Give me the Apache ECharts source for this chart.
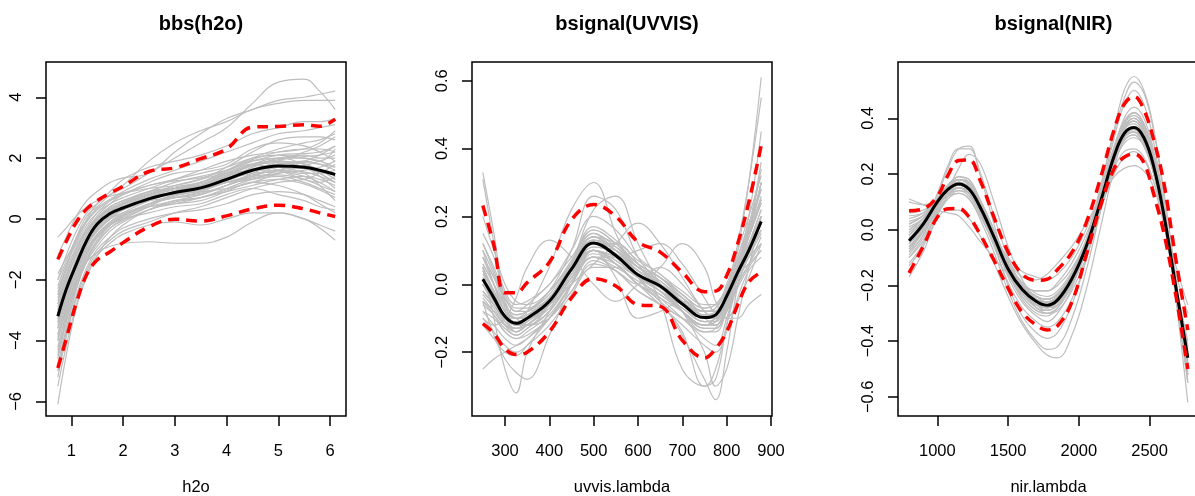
<!DOCTYPE html>
<html><head><meta charset="utf-8">
<script src="https://cdn.jsdelivr.net/npm/echarts@6/dist/echarts.min.js"></script>
<style>html,body{margin:0;padding:0;background:#fff}#c{width:1195px;height:496px}</style>
</head><body><div id="c"></div>
<script>
// ---------- Panel 1: bbs(h2o) ----------
const h2oX = [0.74, 0.9, 1.1, 1.3, 1.5, 1.75, 2.0, 2.5, 3.0, 3.5, 4.0, 4.5, 5.0, 5.5, 5.8, 6.1];
const h2oMean  = [-3.2, -2.33, -1.48, -0.7, -0.17, 0.18, 0.36, 0.66, 0.87, 1.02, 1.3, 1.6, 1.74, 1.7, 1.6, 1.46];
const h2oUpper = [-1.33, -0.75, -0.1, 0.33, 0.6, 0.85, 1.07, 1.56, 1.68, 1.98, 2.3, 3.02, 3.04, 3.1, 3.05, 3.28];
const h2oLower = [-4.9, -3.95, -2.75, -1.82, -1.35, -1.08, -0.78, -0.26, -0.01, -0.07, 0.1, 0.33, 0.45, 0.33, 0.2, 0.08];
const h2oBoot = [
  [-2.0, -1.2, -0.4, 0.2, 0.5, 0.8, 1.0, 1.5, 2.0, 2.5, 3.0, 3.8, 4.5, 4.6, 4.2, 3.6],
  [-1.2, -0.6, 0.1, 0.6, 0.9, 1.2, 1.35, 1.5, 2.2, 2.8, 3.3, 3.6, 3.9, 4.0, 4.1, 4.2],
  [-2.5, -1.6, -0.6, 0.1, 0.4, 0.8, 1.1, 1.9, 2.5, 2.9, 3.2, 3.6, 3.8, 3.9, 3.9, 3.9],
  [-4.0, -3.0, -2.0, -1.4, -1.1, -0.9, -0.8, -0.75, -0.8, -0.8, -0.6, -0.1, 0.2, 0.0, -0.3, -0.7],
  [-5.5, -4.2, -2.8, -1.8, -1.2, -0.8, -0.5, -0.2, -0.1, -0.2, 0.0, 0.2, 0.2, 0.0, -0.2, -0.4],
  [-6.1, -4.5, -2.9, -1.9, -1.2, -0.6, -0.2, 0.3, 0.5, 0.7, 1.0, 1.3, 1.4, 1.2, 1.0, 0.8],
  [-3.0, -2.2, -1.3, -0.6, -0.1, 0.3, 0.5, 0.8, 1.0, 1.2, 1.6, 2.0, 2.3, 2.5, 2.6, 2.8],
  [-3.5, -2.6, -1.6, -0.8, -0.3, 0.1, 0.3, 0.6, 0.7, 0.8, 1.1, 1.5, 1.8, 1.9, 1.8, 1.6],
  [-2.8, -2.0, -1.2, -0.5, 0.0, 0.4, 0.6, 0.9, 1.2, 1.4, 1.6, 1.9, 2.0, 1.8, 1.5, 1.2],
  [-4.2, -3.2, -2.1, -1.3, -0.7, -0.2, 0.1, 0.5, 0.7, 0.9, 1.2, 1.4, 1.5, 1.6, 1.7, 1.9],
  [-3.8, -2.8, -1.7, -0.9, -0.4, 0.0, 0.2, 0.4, 0.5, 0.6, 0.9, 1.2, 1.1, 0.8, 0.5, 0.2],
  [-2.2, -1.5, -0.8, -0.2, 0.2, 0.5, 0.7, 1.0, 1.3, 1.6, 1.9, 2.1, 2.2, 2.3, 2.5, 2.9],
  [-4.8, -3.6, -2.3, -1.4, -0.9, -0.4, -0.1, 0.3, 0.6, 0.7, 0.9, 1.1, 1.3, 1.4, 1.3, 1.1],
  [-3.3, -2.4, -1.4, -0.7, -0.2, 0.2, 0.4, 0.7, 0.9, 1.0, 1.3, 1.7, 2.0, 2.1, 2.0, 2.0],
  [-0.6, -0.3, 0.1, 0.4, 0.6, 0.75, 0.85, 1.0, 1.1, 1.3, 1.7, 2.2, 2.6, 2.7, 2.7, 2.6],
  [-5.0, -3.8, -2.5, -1.6, -1.0, -0.6, -0.3, 0.0, 0.2, 0.3, 0.5, 0.8, 0.9, 0.8, 0.6, 0.4],
  [-2.6, -1.9, -1.0, -0.4, 0.1, 0.5, 0.8, 1.2, 1.5, 1.6, 1.8, 2.3, 2.5, 2.4, 2.2, 1.9],
  [-3.6, -2.7, -1.7, -1.0, -0.5, -0.1, 0.2, 0.6, 0.9, 1.1, 1.2, 1.3, 1.6, 1.9, 2.1, 2.4],
  [-4.5, -3.4, -2.2, -1.4, -0.8, -0.3, 0.0, 0.4, 0.8, 1.0, 1.4, 1.8, 1.9, 1.7, 1.4, 1.0],
  [-2.4, -1.7, -0.9, -0.3, 0.2, 0.6, 0.9, 1.3, 1.6, 1.9, 2.2, 2.5, 2.8, 2.9, 3.0, 3.1],
  [-3.1, -2.3, -1.4, -0.8, -0.4, 0.0, 0.3, 0.7, 1.0, 1.1, 1.2, 1.4, 1.7, 1.5, 1.1, 0.6],
  [-5.2, -3.9, -2.6, -1.7, -1.1, -0.7, -0.4, -0.1, 0.2, 0.4, 0.7, 1.0, 1.2, 1.3, 1.5, 1.8],
  [-1.8, -1.3, -0.7, -0.1, 0.3, 0.6, 0.8, 1.1, 1.3, 1.5, 1.7, 2.0, 2.1, 2.0, 1.9, 2.3],
  [-3.9, -3.0, -1.9, -1.1, -0.6, -0.2, 0.1, 0.5, 0.8, 0.9, 1.0, 1.2, 1.5, 1.7, 1.6, 1.3],
  [-2.9, -2.1, -1.1, -0.5, 0.0, 0.3, 0.5, 0.9, 1.0, 1.1, 1.5, 1.8, 1.6, 1.3, 1.2, 1.4],
  [-4.4, -3.3, -2.0, -1.2, -0.6, -0.2, 0.0, 0.2, 0.4, 0.5, 0.8, 1.0, 0.8, 0.6, 0.4, 0.3],
  [-2.3, -1.6, -0.7, 0.0, 0.5, 0.9, 1.3, 1.7, 1.9, 2.1, 2.4, 2.8, 3.0, 3.2, 3.2, 3.3],
  [-3.4, -2.5, -1.5, -0.8, -0.3, 0.2, 0.5, 0.8, 1.1, 1.3, 1.5, 1.6, 1.9, 2.2, 2.4, 2.7],
  [-3.0, -2.2, -1.4, -0.7, -0.2, 0.2, 0.4, 0.7, 0.8, 0.95, 1.25, 1.7, 1.9, 1.8, 1.6, 1.3],
  [-3.6, -2.6, -1.6, -0.8, -0.3, 0.1, 0.3, 0.6, 0.9, 1.1, 1.4, 1.6, 1.6, 1.5, 1.5, 1.6],
  [-2.7, -1.9, -1.0, -0.4, 0.0, 0.35, 0.55, 0.85, 1.05, 1.2, 1.5, 1.8, 2.0, 2.0, 1.9, 1.7],
  [-4.0, -2.9, -1.8, -1.0, -0.5, -0.1, 0.15, 0.5, 0.7, 0.85, 1.1, 1.4, 1.6, 1.55, 1.4, 1.2],
  [-3.3, -2.4, -1.5, -0.75, -0.2, 0.2, 0.45, 0.75, 0.95, 1.1, 1.4, 1.75, 1.95, 2.05, 2.1, 2.2],
  [-2.5, -1.8, -1.0, -0.35, 0.05, 0.4, 0.6, 0.9, 1.0, 1.05, 1.3, 1.5, 1.55, 1.4, 1.2, 0.9],
  [-4.6, -3.4, -2.1, -1.2, -0.6, -0.2, 0.05, 0.4, 0.6, 0.8, 1.1, 1.35, 1.45, 1.3, 1.1, 0.9],
  [-3.8, -2.8, -1.7, -0.9, -0.35, 0.05, 0.3, 0.65, 0.9, 1.05, 1.35, 1.65, 1.8, 1.85, 1.8, 1.7],
  [-2.0, -1.4, -0.6, -0.05, 0.35, 0.65, 0.85, 1.1, 1.25, 1.35, 1.6, 1.9, 2.1, 2.15, 2.2, 2.4],
  [-5.0, -3.7, -2.3, -1.35, -0.75, -0.3, -0.05, 0.3, 0.55, 0.7, 0.95, 1.2, 1.3, 1.15, 0.95, 0.7],
  [-3.4, -2.5, -1.5, -0.8, -0.25, 0.15, 0.4, 0.7, 0.85, 0.95, 1.2, 1.45, 1.6, 1.75, 1.9, 2.1],
  [-2.8, -2.0, -1.15, -0.5, -0.05, 0.3, 0.5, 0.8, 1.0, 1.15, 1.45, 1.75, 1.85, 1.7, 1.5, 1.2],
  [-4.3, -3.1, -1.9, -1.1, -0.55, -0.15, 0.1, 0.45, 0.75, 0.95, 1.25, 1.55, 1.7, 1.65, 1.55, 1.45],
  [-3.1, -2.3, -1.35, -0.65, -0.15, 0.25, 0.5, 0.8, 1.0, 1.2, 1.55, 1.95, 2.2, 2.3, 2.3, 2.2]
];
const h2oXTicks = [1, 2, 3, 4, 5, 6];
const h2oYTicks = [-6, -4, -2, 0, 2, 4];

// ---------- Panel 2: bsignal(UVVIS) ----------
const uvvisX = [250, 275, 300, 325, 350, 400, 450, 500, 550, 600, 650, 700, 750, 775, 800, 825, 850, 878];
const uvvisMean  = [0.015, -0.04, -0.095, -0.115, -0.1, -0.05, 0.045, 0.122, 0.085, 0.028, -0.005, -0.058, -0.098, -0.09, -0.035, 0.035, 0.1, 0.185];
const uvvisUpper = [0.232, 0.115, -0.025, -0.025, 0.005, 0.065, 0.19, 0.235, 0.2, 0.125, 0.095, 0.035, -0.022, -0.02, 0.025, 0.12, 0.242, 0.41];
const uvvisLower = [-0.116, -0.145, -0.19, -0.207, -0.2, -0.14, -0.04, 0.017, -0.005, -0.06, -0.065, -0.165, -0.217, -0.19, -0.14, -0.06, 0.007, 0.036];
const uvvisBoot = [
  [0.33, 0.15, -0.05, -0.12, -0.1, -0.05, 0.05, 0.14, 0.1, 0.04, 0.0, -0.06, -0.1, -0.09, -0.04, 0.05, 0.14, 0.3],
  [0.31, 0.12, -0.07, -0.14, -0.12, -0.06, 0.04, 0.12, 0.08, 0.03, -0.02, -0.08, -0.12, -0.11, -0.05, 0.06, 0.17, 0.36],
  [-0.25, -0.22, -0.2, -0.18, -0.16, -0.1, 0.0, 0.08, 0.06, 0.02, -0.02, -0.06, -0.08, -0.07, -0.02, 0.03, 0.06, 0.1],
  [0.05, -0.1, -0.25, -0.32, -0.2, -0.08, 0.05, 0.15, 0.1, 0.05, 0.0, -0.05, -0.1, -0.1, -0.05, 0.05, 0.15, 0.25],
  [0.0, -0.05, -0.1, -0.12, -0.08, 0.05, 0.22, 0.3, 0.15, 0.02, -0.05, -0.1, -0.12, -0.1, -0.05, 0.05, 0.15, 0.3],
  [0.1, 0.0, -0.08, -0.1, -0.08, -0.02, 0.1, 0.26, 0.22, 0.08, 0.0, -0.08, -0.14, -0.13, -0.06, 0.05, 0.2, 0.45],
  [0.05, -0.02, -0.1, -0.13, -0.12, -0.06, 0.04, 0.12, 0.09, 0.03, -0.01, -0.06, -0.1, -0.1, -0.03, 0.1, 0.3, 0.61],
  [0.0, -0.05, -0.1, -0.12, -0.1, -0.05, 0.06, 0.13, 0.08, 0.02, -0.02, -0.07, -0.11, -0.1, -0.02, 0.12, 0.3, 0.55],
  [-0.05, -0.08, -0.12, -0.13, -0.12, -0.06, 0.05, 0.1, 0.06, 0.0, -0.05, -0.15, -0.28, -0.34, -0.2, 0.0, 0.15, 0.3],
  [-0.02, -0.06, -0.1, -0.12, -0.1, -0.04, 0.04, 0.12, 0.12, 0.06, -0.05, -0.25, -0.3, -0.25, -0.12, 0.0, 0.08, 0.15],
  [0.08, 0.0, -0.08, -0.1, -0.12, -0.1, -0.02, 0.06, 0.04, 0.0, 0.05, 0.12, 0.05, -0.05, -0.1, -0.05, 0.02, 0.12],
  [0.02, -0.04, -0.12, -0.15, -0.13, -0.08, 0.02, 0.1, 0.08, 0.04, 0.0, -0.04, -0.08, -0.08, -0.1, -0.1, -0.06, -0.03],
  [-0.05, -0.09, -0.14, -0.16, -0.15, -0.1, 0.0, 0.1, 0.02, -0.1, -0.08, -0.05, -0.1, -0.12, -0.08, 0.0, 0.1, 0.2],
  [0.04, -0.03, -0.1, -0.12, -0.1, -0.06, 0.0, 0.06, 0.12, 0.18, 0.12, 0.02, -0.08, -0.1, -0.06, 0.04, 0.14, 0.25],
  [0.12, 0.04, -0.04, -0.08, -0.06, 0.0, 0.08, 0.16, 0.12, 0.06, 0.02, -0.04, -0.08, -0.07, -0.02, 0.06, 0.14, 0.24],
  [-0.08, -0.12, -0.16, -0.18, -0.16, -0.1, -0.02, 0.07, 0.04, -0.02, -0.06, -0.1, -0.14, -0.14, -0.08, 0.0, 0.06, 0.14],
  [0.06, 0.0, -0.06, -0.09, -0.08, -0.04, 0.06, 0.14, 0.1, 0.05, 0.02, -0.03, -0.08, -0.08, -0.04, 0.04, 0.12, 0.22],
  [-0.1, -0.14, -0.18, -0.2, -0.18, -0.12, -0.03, 0.05, 0.05, 0.0, -0.04, -0.08, -0.12, -0.12, -0.07, 0.02, 0.1, 0.18],
  [0.15, 0.08, -0.02, -0.06, -0.05, 0.0, 0.1, 0.2, 0.16, 0.08, 0.03, -0.02, -0.06, -0.06, 0.0, 0.1, 0.2, 0.32],
  [-0.05, -0.15, -0.22, -0.26, -0.28, -0.15, 0.0, 0.12, 0.1, 0.02, -0.04, -0.1, -0.16, -0.18, -0.1, 0.02, 0.1, 0.18],
  [-0.1, -0.12, -0.1, -0.04, 0.05, 0.13, 0.08, 0.0, -0.05, 0.0, 0.05, 0.0, -0.08, -0.1, -0.05, 0.03, 0.08, 0.12],
  [0.08, 0.02, -0.04, -0.08, -0.08, -0.04, 0.04, 0.1, 0.08, 0.04, 0.0, -0.08, -0.2, -0.3, -0.25, -0.1, 0.05, 0.2],
  [0.0, -0.06, -0.11, -0.14, -0.12, -0.06, 0.03, 0.11, 0.1, 0.05, 0.0, -0.06, -0.1, -0.1, -0.05, 0.05, 0.12, 0.2],
  [0.2, 0.1, 0.0, -0.05, -0.06, -0.02, 0.06, 0.14, 0.12, 0.06, 0.02, -0.04, -0.09, -0.09, -0.03, 0.08, 0.18, 0.28],
  [-0.02, -0.06, -0.1, -0.1, -0.1, -0.06, 0.02, 0.08, 0.08, 0.1, 0.12, 0.06, -0.04, -0.08, -0.06, 0.02, 0.1, 0.16],
  [-0.12, -0.16, -0.2, -0.21, -0.18, -0.1, 0.0, 0.1, 0.06, 0.0, -0.06, -0.12, -0.18, -0.2, -0.14, -0.04, 0.04, 0.08],
  [0.03, -0.02, -0.08, -0.12, -0.12, -0.08, 0.02, 0.08, 0.04, -0.02, -0.06, -0.14, -0.3, -0.28, -0.12, 0.02, 0.1, 0.16],
  [0.05, -0.02, -0.08, -0.12, -0.12, -0.06, 0.06, 0.22, 0.26, 0.12, 0.0, -0.08, -0.12, -0.11, -0.05, 0.06, 0.16, 0.28],
  [0.02, -0.03, -0.09, -0.11, -0.1, -0.05, 0.05, 0.13, 0.1, 0.04, 0.0, -0.05, -0.09, -0.08, -0.03, 0.04, 0.11, 0.2],
  [-0.03, -0.07, -0.12, -0.14, -0.12, -0.07, 0.02, 0.1, 0.07, 0.02, -0.02, -0.07, -0.11, -0.11, -0.05, 0.03, 0.09, 0.16],
  [0.08, 0.02, -0.06, -0.09, -0.08, -0.03, 0.07, 0.15, 0.11, 0.05, 0.01, -0.04, -0.08, -0.07, -0.01, 0.07, 0.15, 0.26],
  [-0.06, -0.09, -0.13, -0.15, -0.13, -0.08, 0.01, 0.09, 0.06, 0.0, -0.03, -0.08, -0.12, -0.12, -0.07, 0.0, 0.06, 0.12],
  [0.04, -0.02, -0.08, -0.1, -0.09, -0.04, 0.06, 0.16, 0.12, 0.05, 0.01, -0.05, -0.1, -0.09, -0.03, 0.06, 0.14, 0.24],
  [0.0, -0.05, -0.1, -0.12, -0.11, -0.06, 0.03, 0.11, 0.09, 0.04, 0.0, -0.05, -0.09, -0.09, -0.04, 0.03, 0.1, 0.18],
  [0.1, 0.03, -0.05, -0.1, -0.1, -0.04, 0.06, 0.14, 0.08, 0.02, -0.02, -0.06, -0.1, -0.1, -0.05, 0.05, 0.16, 0.34],
  [-0.04, -0.08, -0.12, -0.13, -0.11, -0.05, 0.04, 0.12, 0.09, 0.03, -0.02, -0.08, -0.13, -0.13, -0.07, 0.02, 0.1, 0.2],
  [0.06, 0.0, -0.07, -0.1, -0.09, -0.05, 0.04, 0.13, 0.11, 0.06, 0.02, -0.03, -0.07, -0.06, -0.01, 0.05, 0.12, 0.19],
  [-0.02, -0.06, -0.11, -0.13, -0.11, -0.06, 0.03, 0.1, 0.07, 0.02, -0.01, -0.06, -0.11, -0.1, -0.04, 0.04, 0.12, 0.22],
  [0.12, 0.05, -0.03, -0.07, -0.07, -0.02, 0.07, 0.17, 0.13, 0.07, 0.03, -0.03, -0.07, -0.06, -0.01, 0.08, 0.17, 0.28],
  [-0.08, -0.1, -0.14, -0.16, -0.14, -0.09, 0.0, 0.08, 0.05, 0.01, -0.03, -0.08, -0.13, -0.13, -0.08, -0.01, 0.05, 0.1]
];
const uvvisXTicks = [300, 400, 500, 600, 700, 800, 900];
const uvvisYTicks = [-0.2, 0.0, 0.2, 0.4, 0.6];

// ---------- Panel 3: bsignal(NIR) ----------
const nirX = [800, 900, 1000, 1075, 1150, 1225, 1300, 1400, 1500, 1600, 1700, 1775, 1850, 1950, 2050, 2150, 2250, 2320, 2390, 2460, 2530, 2600, 2680, 2770];
const nirMean  = [-0.04, 0.02, 0.1, 0.145, 0.164, 0.145, 0.083, -0.026, -0.141, -0.215, -0.258, -0.271, -0.252, -0.177, -0.063, 0.095, 0.265, 0.345, 0.367, 0.33, 0.225, 0.055, -0.19, -0.46];
const nirUpper = [0.068, 0.075, 0.12, 0.195, 0.248, 0.25, 0.18, 0.045, -0.08, -0.16, -0.182, -0.178, -0.143, -0.082, 0.022, 0.18, 0.36, 0.45, 0.478, 0.43, 0.32, 0.17, -0.09, -0.36];
const nirLower = [-0.155, -0.06, 0.045, 0.075, 0.076, 0.045, -0.015, -0.11, -0.21, -0.297, -0.343, -0.36, -0.345, -0.261, -0.095, 0.08, 0.22, 0.26, 0.272, 0.24, 0.125, -0.01, -0.22, -0.5];
const nirBoot = [
  [-0.08, 0.0, 0.12, 0.22, 0.29, 0.3, 0.2, 0.02, -0.15, -0.25, -0.3, -0.31, -0.28, -0.18, -0.04, 0.15, 0.36, 0.5, 0.55, 0.5, 0.36, 0.14, -0.15, -0.5],
  [0.1, 0.09, 0.1, 0.12, 0.14, 0.13, 0.08, -0.02, -0.12, -0.19, -0.22, -0.22, -0.2, -0.14, -0.04, 0.1, 0.25, 0.32, 0.34, 0.3, 0.2, 0.04, -0.2, -0.48],
  [-0.17, -0.08, 0.04, 0.07, 0.07, 0.04, -0.02, -0.12, -0.24, -0.34, -0.41, -0.45, -0.46, -0.38, -0.22, 0.0, 0.22, 0.33, 0.37, 0.34, 0.23, 0.05, -0.22, -0.55],
  [0.11, 0.09, 0.07, 0.06, 0.05, 0.01, -0.04, -0.1, -0.16, -0.2, -0.22, -0.22, -0.19, -0.12, -0.02, 0.12, 0.26, 0.33, 0.35, 0.32, 0.22, 0.06, -0.18, -0.45],
  [-0.1, -0.03, 0.06, 0.12, 0.15, 0.14, 0.09, -0.01, -0.11, -0.17, -0.18, -0.16, -0.12, -0.06, 0.02, 0.11, 0.19, 0.22, 0.23, 0.21, 0.15, 0.02, -0.15, -0.3],
  [-0.02, 0.03, 0.1, 0.14, 0.16, 0.14, 0.08, -0.02, -0.13, -0.2, -0.24, -0.25, -0.23, -0.16, -0.06, 0.08, 0.22, 0.28, 0.29, 0.26, 0.17, 0.04, -0.12, -0.27],
  [-0.06, 0.0, 0.09, 0.15, 0.19, 0.18, 0.1, -0.03, -0.17, -0.26, -0.31, -0.33, -0.3, -0.21, -0.06, 0.14, 0.35, 0.47, 0.53, 0.49, 0.35, 0.12, -0.22, -0.62],
  [-0.05, 0.01, 0.1, 0.16, 0.19, 0.17, 0.1, -0.01, -0.13, -0.21, -0.26, -0.28, -0.27, -0.2, -0.08, 0.08, 0.26, 0.36, 0.39, 0.35, 0.24, 0.07, -0.19, -0.5],
  [0.03, 0.05, 0.1, 0.13, 0.14, 0.12, 0.06, -0.04, -0.15, -0.23, -0.28, -0.3, -0.29, -0.22, -0.1, 0.06, 0.24, 0.33, 0.36, 0.32, 0.21, 0.05, -0.2, -0.44],
  [-0.12, -0.05, 0.07, 0.14, 0.18, 0.17, 0.11, 0.0, -0.12, -0.2, -0.25, -0.26, -0.24, -0.16, -0.04, 0.12, 0.29, 0.38, 0.41, 0.37, 0.25, 0.07, -0.2, -0.52],
  [0.06, 0.07, 0.1, 0.12, 0.13, 0.11, 0.05, -0.05, -0.16, -0.23, -0.27, -0.28, -0.26, -0.19, -0.07, 0.08, 0.25, 0.34, 0.37, 0.33, 0.22, 0.05, -0.18, -0.4],
  [-0.08, -0.02, 0.08, 0.14, 0.17, 0.15, 0.08, -0.05, -0.2, -0.31, -0.37, -0.39, -0.37, -0.27, -0.11, 0.08, 0.27, 0.37, 0.4, 0.36, 0.24, 0.05, -0.22, -0.52],
  [0.0, 0.04, 0.1, 0.14, 0.15, 0.13, 0.07, -0.02, -0.1, -0.15, -0.17, -0.18, -0.16, -0.1, 0.0, 0.13, 0.27, 0.34, 0.35, 0.31, 0.2, 0.03, -0.21, -0.47],
  [-0.06, -0.01, 0.07, 0.14, 0.22, 0.27, 0.24, 0.1, -0.06, -0.18, -0.25, -0.27, -0.25, -0.18, -0.06, 0.1, 0.28, 0.38, 0.42, 0.38, 0.27, 0.08, -0.18, -0.48],
  [-0.03, 0.02, 0.1, 0.15, 0.17, 0.15, 0.09, -0.03, -0.15, -0.23, -0.27, -0.28, -0.27, -0.19, -0.07, 0.09, 0.26, 0.35, 0.37, 0.33, 0.22, 0.06, -0.2, -0.46],
  [0.02, 0.05, 0.1, 0.14, 0.16, 0.14, 0.08, -0.03, -0.14, -0.21, -0.25, -0.26, -0.24, -0.17, -0.07, 0.07, 0.2, 0.26, 0.28, 0.25, 0.17, 0.03, -0.18, -0.42],
  [-0.1, -0.04, 0.06, 0.12, 0.15, 0.13, 0.06, -0.06, -0.19, -0.28, -0.33, -0.35, -0.33, -0.25, -0.11, 0.07, 0.27, 0.37, 0.4, 0.36, 0.25, 0.06, -0.2, -0.5],
  [-0.01, 0.04, 0.11, 0.16, 0.18, 0.16, 0.1, -0.01, -0.12, -0.19, -0.23, -0.24, -0.22, -0.15, -0.04, 0.11, 0.28, 0.37, 0.4, 0.36, 0.25, 0.07, -0.2, -0.49],
  [-0.04, 0.02, 0.13, 0.23, 0.29, 0.29, 0.21, 0.05, -0.1, -0.2, -0.25, -0.26, -0.24, -0.17, -0.05, 0.11, 0.29, 0.4, 0.44, 0.4, 0.28, 0.08, -0.2, -0.52],
  [0.05, 0.06, 0.1, 0.13, 0.15, 0.13, 0.07, -0.04, -0.16, -0.24, -0.29, -0.3, -0.28, -0.2, -0.08, 0.08, 0.25, 0.33, 0.35, 0.31, 0.2, 0.03, -0.22, -0.5],
  [-0.13, -0.06, 0.05, 0.11, 0.13, 0.11, 0.04, -0.08, -0.22, -0.33, -0.4, -0.43, -0.42, -0.32, -0.15, 0.06, 0.27, 0.38, 0.42, 0.38, 0.26, 0.06, -0.22, -0.54],
  [-0.07, 0.0, 0.09, 0.15, 0.18, 0.17, 0.1, -0.02, -0.14, -0.22, -0.27, -0.29, -0.27, -0.2, -0.08, 0.08, 0.27, 0.37, 0.4, 0.36, 0.25, 0.07, -0.19, -0.48],
  [0.0, 0.04, 0.1, 0.14, 0.16, 0.14, 0.07, -0.04, -0.15, -0.22, -0.26, -0.27, -0.25, -0.18, -0.06, 0.1, 0.26, 0.34, 0.36, 0.32, 0.21, 0.05, -0.2, -0.44],
  [-0.05, 0.01, 0.09, 0.15, 0.18, 0.16, 0.09, -0.03, -0.15, -0.23, -0.27, -0.28, -0.26, -0.18, -0.05, 0.13, 0.33, 0.45, 0.5, 0.45, 0.31, 0.09, -0.2, -0.55],
  [-0.02, 0.03, 0.11, 0.16, 0.18, 0.16, 0.09, -0.02, -0.13, -0.2, -0.24, -0.25, -0.23, -0.16, -0.05, 0.1, 0.27, 0.35, 0.37, 0.33, 0.22, 0.05, -0.2, -0.47],
  [-0.06, 0.0, 0.09, 0.13, 0.15, 0.13, 0.07, -0.04, -0.16, -0.23, -0.28, -0.29, -0.27, -0.19, -0.08, 0.08, 0.25, 0.33, 0.35, 0.31, 0.21, 0.04, -0.2, -0.46],
  [0.02, 0.05, 0.11, 0.15, 0.17, 0.15, 0.09, -0.02, -0.13, -0.2, -0.24, -0.26, -0.24, -0.17, -0.05, 0.11, 0.28, 0.36, 0.38, 0.34, 0.23, 0.06, -0.18, -0.43],
  [-0.09, -0.02, 0.08, 0.14, 0.16, 0.14, 0.07, -0.04, -0.16, -0.24, -0.29, -0.3, -0.28, -0.2, -0.07, 0.09, 0.27, 0.36, 0.39, 0.35, 0.24, 0.06, -0.19, -0.48],
  [0.04, 0.06, 0.11, 0.14, 0.15, 0.13, 0.08, -0.02, -0.13, -0.2, -0.24, -0.25, -0.23, -0.16, -0.05, 0.09, 0.24, 0.31, 0.33, 0.3, 0.2, 0.04, -0.19, -0.44],
  [-0.04, 0.02, 0.1, 0.15, 0.17, 0.15, 0.08, -0.03, -0.15, -0.22, -0.27, -0.28, -0.26, -0.18, -0.06, 0.1, 0.28, 0.37, 0.39, 0.35, 0.24, 0.06, -0.2, -0.49],
  [-0.01, 0.03, 0.09, 0.13, 0.15, 0.13, 0.07, -0.03, -0.14, -0.21, -0.25, -0.26, -0.24, -0.17, -0.06, 0.09, 0.26, 0.34, 0.36, 0.32, 0.22, 0.05, -0.19, -0.45],
  [-0.07, -0.01, 0.09, 0.15, 0.18, 0.16, 0.09, -0.03, -0.15, -0.23, -0.27, -0.28, -0.26, -0.18, -0.05, 0.12, 0.3, 0.39, 0.42, 0.38, 0.26, 0.07, -0.19, -0.5],
  [0.01, 0.04, 0.1, 0.14, 0.16, 0.14, 0.08, -0.03, -0.14, -0.22, -0.26, -0.27, -0.25, -0.18, -0.07, 0.08, 0.24, 0.32, 0.34, 0.3, 0.2, 0.04, -0.19, -0.42],
  [-0.05, 0.01, 0.1, 0.15, 0.17, 0.15, 0.08, -0.03, -0.14, -0.22, -0.26, -0.27, -0.25, -0.17, -0.05, 0.11, 0.28, 0.37, 0.4, 0.36, 0.25, 0.07, -0.2, -0.5],
  [-0.02, 0.03, 0.1, 0.14, 0.16, 0.14, 0.08, -0.03, -0.15, -0.23, -0.28, -0.29, -0.27, -0.19, -0.07, 0.09, 0.26, 0.35, 0.37, 0.33, 0.22, 0.05, -0.19, -0.45],
  [-0.03, 0.02, 0.1, 0.16, 0.19, 0.18, 0.11, 0.0, -0.12, -0.2, -0.24, -0.25, -0.23, -0.16, -0.04, 0.12, 0.3, 0.38, 0.41, 0.37, 0.26, 0.07, -0.2, -0.51]
];
const nirXTicks = [1000, 1500, 2000, 2500];
const nirYTicks = [-0.6, -0.4, -0.2, 0.0, 0.2, 0.4];

const titles = ['bbs(h2o)', 'bsignal(UVVIS)', 'bsignal(NIR)'];
const xNames = ['h2o', 'uvvis.lambda', 'nir.lambda'];

// ---------- layout / style ----------
const FONT = '"Liberation Sans", Arial, Helvetica, sans-serif';
const panels = [
  {left: 46, width: 300, xMin: 0.511, xMax: 6.309, yMin: -6.48, yMax: 5.16, dec: 0,
   x: h2oX, mean: h2oMean, upper: h2oUpper, lower: h2oLower, boot: h2oBoot, xt: h2oXTicks, yt: h2oYTicks},
  {left: 472, width: 300, xMin: 225.6, xMax: 902.3, yMin: -0.388, yMax: 0.655, dec: 1,
   x: uvvisX, mean: uvvisMean, upper: uvvisUpper, lower: uvvisLower, boot: uvvisBoot, xt: uvvisXTicks, yt: uvvisYTicks},
  {left: 898, width: 301, xMin: 722, xMax: 2849, yMin: -0.669, yMax: 0.602, dec: 1,
   x: nirX, mean: nirMean, upper: nirUpper, lower: nirLower, boot: nirBoot, xt: nirXTicks, yt: nirYTicks}
];
const TOP = 62, HEIGHT = 354;
const fmt = dec => v => (v < 0 ? '\u2212' : '') + Math.abs(v).toFixed(dec);

const grid = [], xAxis = [], yAxis = [], title = [], series = [];
panels.forEach((p, i) => {
  grid.push({left: p.left, top: TOP, width: p.width, height: HEIGHT, show: true,
             outerBoundsMode: 'none', containLabel: false,
             borderColor: '#000', borderWidth: 1.5, backgroundColor: 'transparent'});
  title.push({text: titles[i], left: p.left + p.width / 2, top: 9, textAlign: 'center',
              textStyle: {fontFamily: FONT, fontSize: 20, fontWeight: 'bold', color: '#000'}});
  xAxis.push({type: 'value', gridIndex: i, min: p.xMin, max: p.xMax, position: 'bottom',
    axisLine: {show: false, onZero: false}, splitLine: {show: false},
    axisTick: {show: true, inside: false, length: 10, customValues: p.xt, lineStyle: {color: '#000', width: 1.5}},
    axisLabel: {show: true, customValues: p.xt, margin: 27, fontFamily: FONT, fontSize: 16.5, color: '#000',
                formatter: v => String(v)},
    name: xNames[i], nameLocation: 'middle', nameGap: 63,
    nameTextStyle: {fontFamily: FONT, fontSize: 16.5, color: '#000'}});
  yAxis.push({type: 'value', gridIndex: i, min: p.yMin, max: p.yMax, position: 'left',
    axisLine: {show: false, onZero: false}, splitLine: {show: false},
    axisTick: {show: true, inside: false, length: 10, customValues: p.yt, lineStyle: {color: '#000', width: 1.5}},
    axisLabel: {show: true, customValues: p.yt, rotate: 90, margin: 21, fontFamily: FONT, fontSize: 16.5, color: '#000',
                formatter: fmt(p.dec)}});
  const pts = arr => p.x.map((xv, k) => [xv, arr[k]]);
  p.boot.forEach(c => series.push({type: 'line', xAxisIndex: i, yAxisIndex: i, data: pts(c),
    smooth: 0.4, symbol: 'none', silent: true, z: 2, lineStyle: {color: '#BEBEBE', width: 1.2}}));
  series.push({type: 'line', xAxisIndex: i, yAxisIndex: i, data: pts(p.mean), smooth: 0.4, symbol: 'none',
    silent: true, z: 3, lineStyle: {color: '#000', width: 3}});
  [p.upper, p.lower].forEach(b => series.push({type: 'line', xAxisIndex: i, yAxisIndex: i, data: pts(b),
    smooth: 0.4, symbol: 'none', silent: true, z: 4,
    lineStyle: {color: '#FF0000', width: 3.5, type: [11, 7]}}));
});

const chart = echarts.init(document.getElementById('c'), null, {renderer: 'canvas'});
chart.setOption({animation: false, backgroundColor: '#fff', title, grid, xAxis, yAxis, series});
</script></body></html>
